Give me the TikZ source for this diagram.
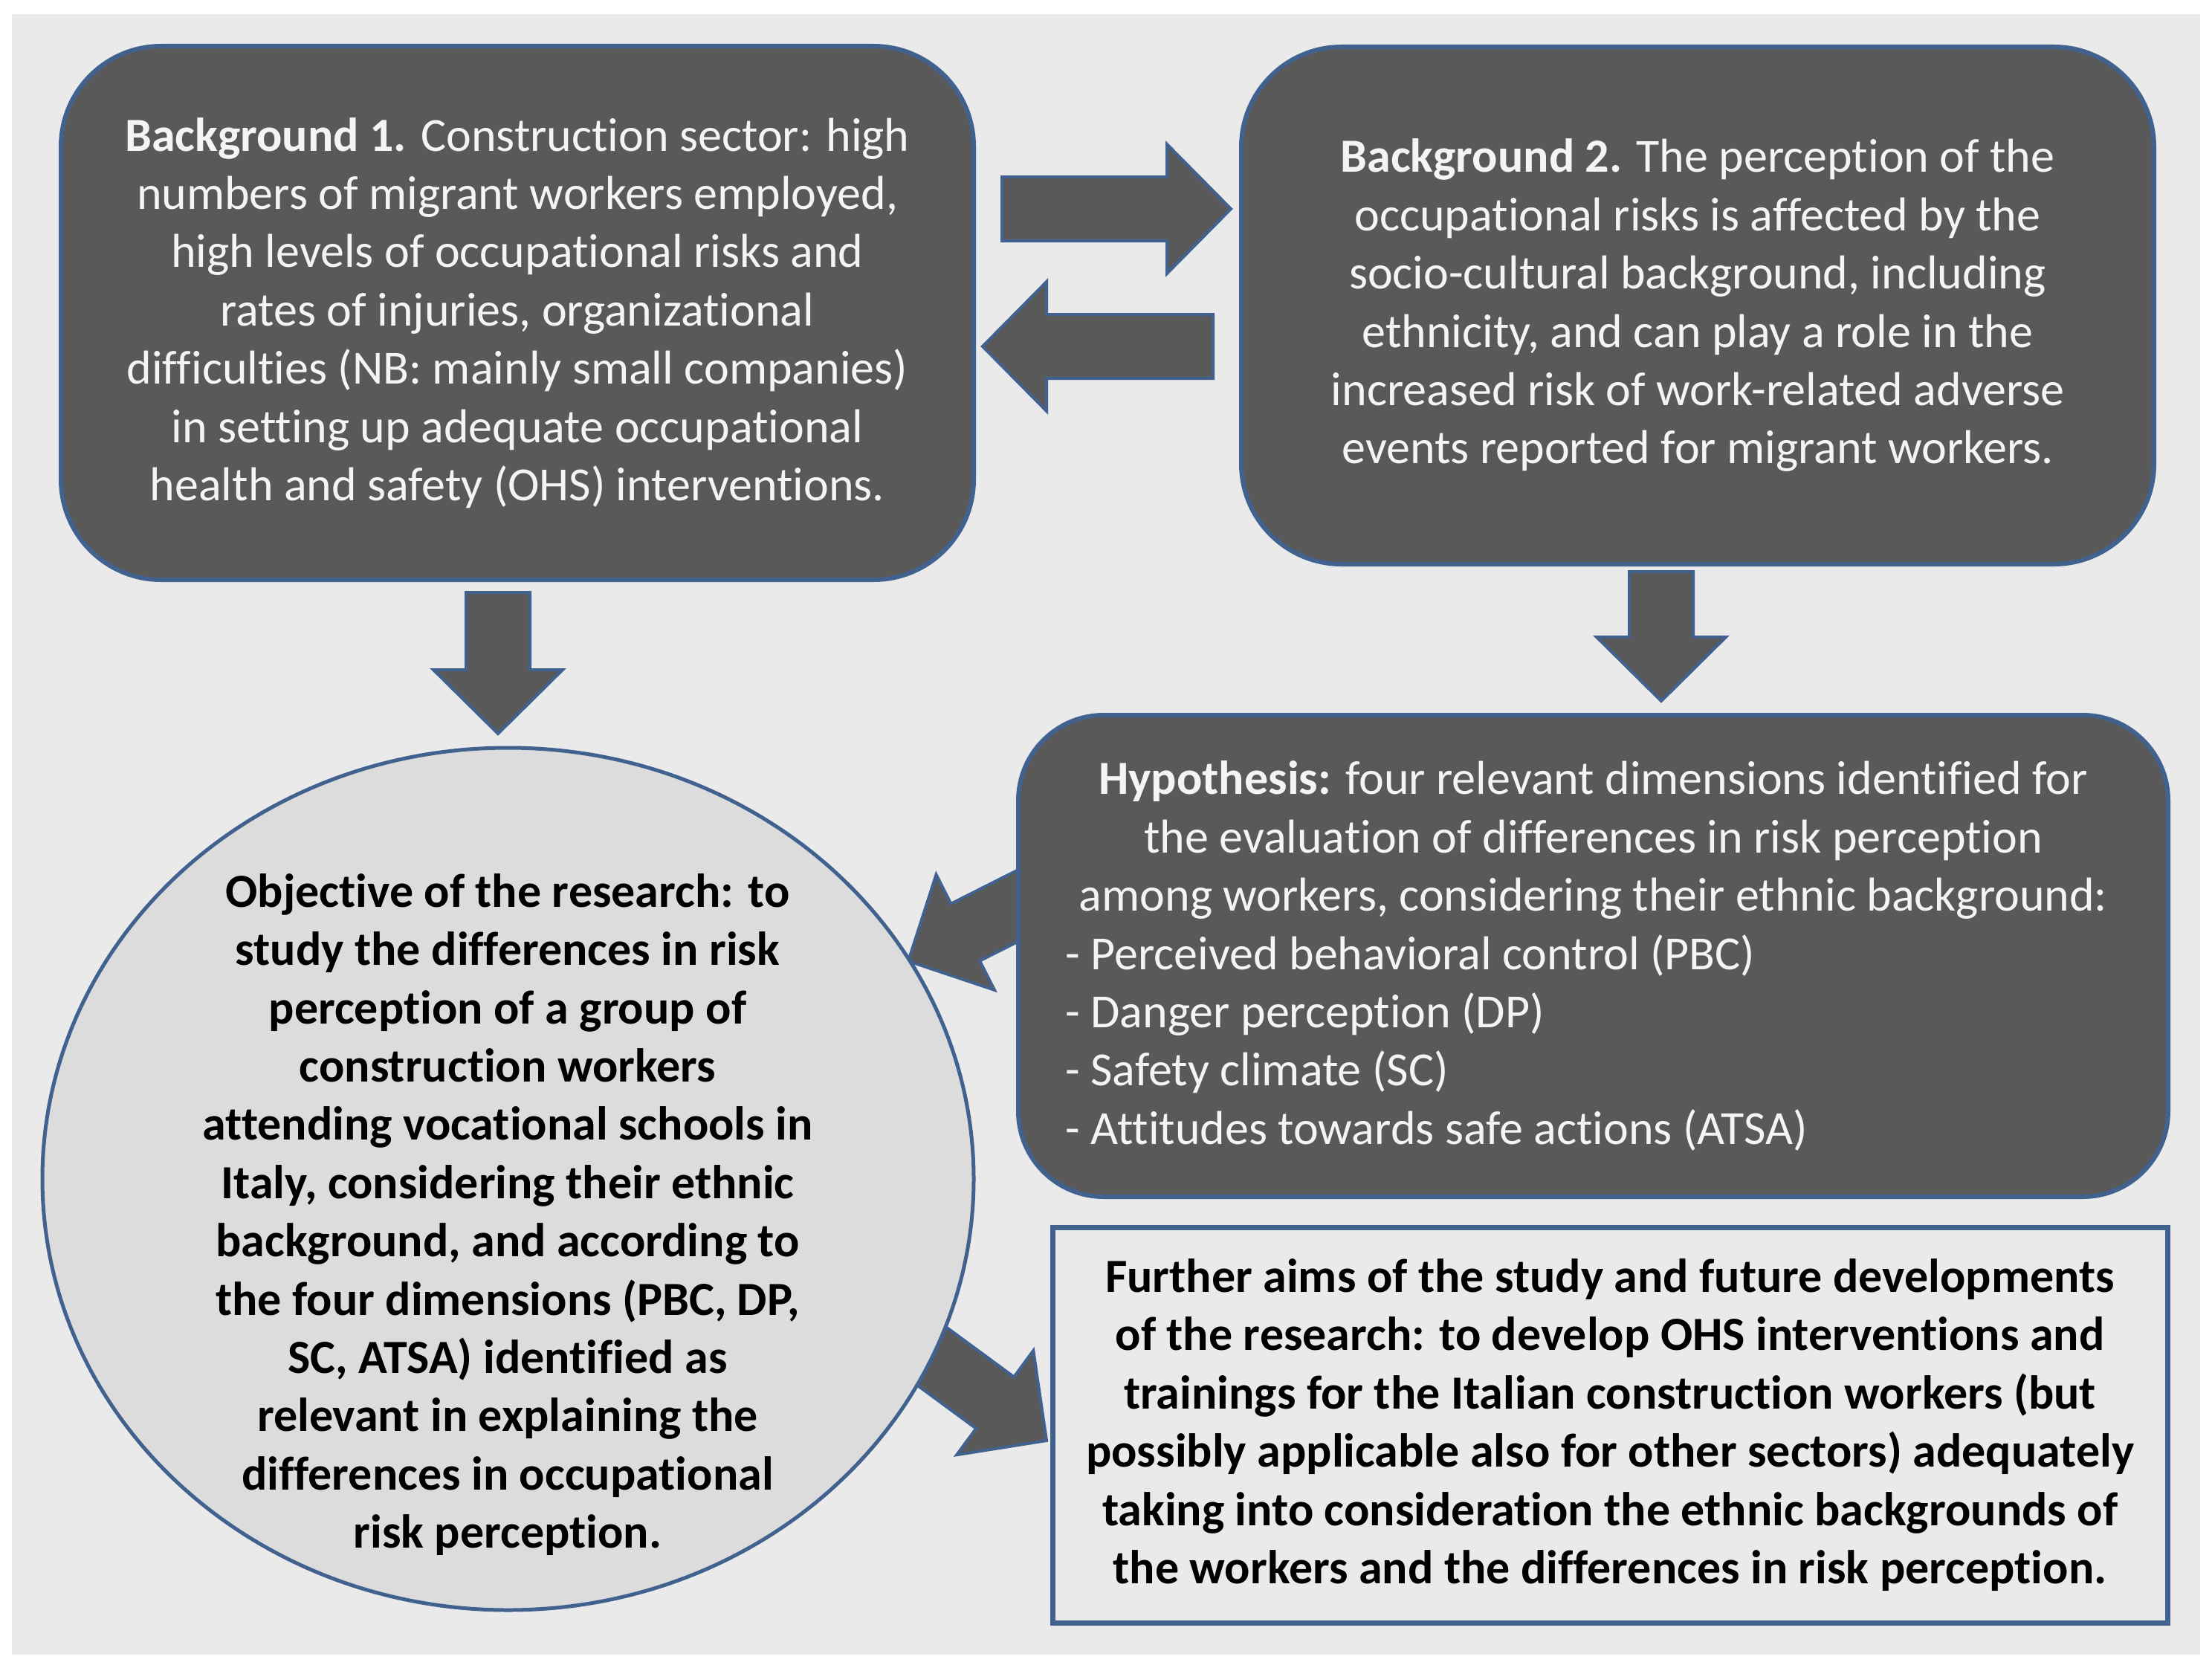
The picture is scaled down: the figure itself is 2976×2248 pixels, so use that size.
\documentclass[tikz,border=0pt]{standalone}
\usepackage{fontspec}
\setmainfont{Carlito}[Ligatures=CommonOff]
\usetikzlibrary{calc,shapes.geometric}
\definecolor{bgpanel}{HTML}{EAEAEA}
\definecolor{darkfill}{HTML}{595959}
\definecolor{edgeblue}{HTML}{41618F}
\definecolor{circfill}{HTML}{DCDCDC}
\definecolor{lighttext}{HTML}{F4F4F4}
\pgfdeclarelayer{panel}
\pgfdeclarelayer{under}
\pgfsetlayers{panel,under,main}
\newcommand\blockarrow[2]{%
  \coordinate (ahb) at ($(#2)!86pt!(#1)$);
  \filldraw[arrowstyle] ($(#1)!43pt!90:(#2)$) -- ($(ahb)!43pt!90:(#2)$) -- ($(ahb)!87pt!90:(#2)$) -- (#2) -- ($(ahb)!87pt!-90:(#2)$) -- ($(ahb)!43pt!-90:(#2)$) -- ($(#1)!43pt!-90:(#2)$) -- cycle;
}
\begin{document}
\begin{tikzpicture}[x=1pt,y=-1pt,
  font=\fontsize{64}{78.4}\selectfont,
  darkbox/.style={draw=edgeblue, line width=6pt, fill=darkfill, rounded corners=135pt, text=lighttext, align=center, inner sep=0pt},
  lightbox/.style={draw=edgeblue, line width=7pt, fill=bgpanel, align=center, inner sep=0pt},
  objcircle/.style={ellipse, draw=edgeblue, line width=5pt, fill=circfill, inner sep=0pt},
  arrowstyle/.style={draw=edgeblue, line width=4pt, fill=darkfill, line join=miter},
  blacktext/.style={text=black, align=center, inner sep=0pt}]
\useasboundingbox (0,0) rectangle (2976,2248);
\begin{pgfonlayer}{panel}
\fill[white] (0,0) rectangle (2976,2248);
\fill[bgpanel] (16,19) rectangle (2960,2226);
\end{pgfonlayer}

% Background 1
\node[darkbox, minimum width=1228pt, minimum height=718pt] (bgone) at (696,421)
 {\textbf{Background 1.} Construction sector: high\\
  numbers of migrant workers employed,\\
  high levels of occupational risks and\\
  rates of injuries, organizational\\
  difficulties (NB: mainly small companies)\\
  in setting up adequate occupational\\
  health and safety (OHS) interventions.};

% Background 2
\node[darkbox, minimum width=1228pt, minimum height=696pt] (bgtwo) at (2284,411)
 {\textbf{Background 2.} The perception of the\\
  occupational risks is affected by the\\
  socio-cultural background, including\\
  ethnicity, and can play a role in the\\
  increased risk of work-related adverse\\
  events reported for migrant workers.};

% Hypothesis
\node[darkbox, rounded corners=115pt, minimum width=1547pt, minimum height=648pt] (hyp) at (2143.5,1286)
 {\begin{minipage}{1420pt}\fontsize{64}{78.4}\selectfont\centering
  \textbf{Hypothesis:} four relevant dimensions identified for\\
  the evaluation of differences in risk perception\\
  among workers, considering their ethnic background:\par
  \raggedright
  - Perceived behavioral control (PBC)\\
  - Danger perception (DP)\\
  - Safety climate (SC)\\
  - Attitudes towards safe actions (ATSA)\par
  \end{minipage}};

% Objective circle
\node[objcircle, minimum width=1253pt, minimum height=1160pt] (obj) at (683.5,1586) {};
\node[blacktext, font=\fontsize{64}{78.4}\selectfont\bfseries] (objtext) at (683,1634)
 {Objective of the research: to\\
  study the differences in risk\\
  perception of a group of\\
  construction workers\\
  attending vocational schools in\\
  Italy, considering their ethnic\\
  background, and according to\\
  the four dimensions (PBC, DP,\\
  SC, ATSA) identified as\\
  relevant in explaining the\\
  differences in occupational\\
  risk perception.};

% Further aims
\node[lightbox, minimum width=1500pt, minimum height=532pt] (further) at (2166,1917) {};
\node[blacktext, font=\fontsize{64}{78.4}\selectfont\bfseries] (furthertext) at (2166,1917)
 {Further aims of the study and future developments\\
  of the research: to develop OHS interventions and\\
  trainings for the Italian construction workers (but\\
  possibly applicable also for other sectors) adequately\\
  taking into consideration the ethnic backgrounds of\\
  the workers and the differences in risk perception.};

% arrow end points
\coordinate (rAs) at (1348,281);
\coordinate (rAe) at (1656,281);
\coordinate (lAs) at (1632,466);
\coordinate (lAe) at (1322,466);
\coordinate (dAs) at (670,797);
\coordinate (dAe) at (670,987);
\coordinate (dBs) at (2235,769);
\coordinate (dBe) at (2235,943);
\coordinate (hAs) at (1418,1194);
\coordinate (hAe) at (1222,1293);
\coordinate (oAs) at (1223,1802);
\coordinate (oAe) at (1408,1938);

\begin{pgfonlayer}{under}
\blockarrow{rAs}{rAe}
\blockarrow{lAs}{lAe}
\blockarrow{dAs}{dAe}
\blockarrow{dBs}{dBe}
\blockarrow{hAs}{hAe}
\blockarrow{oAs}{oAe}
\end{pgfonlayer}
\end{tikzpicture}
\end{document}
